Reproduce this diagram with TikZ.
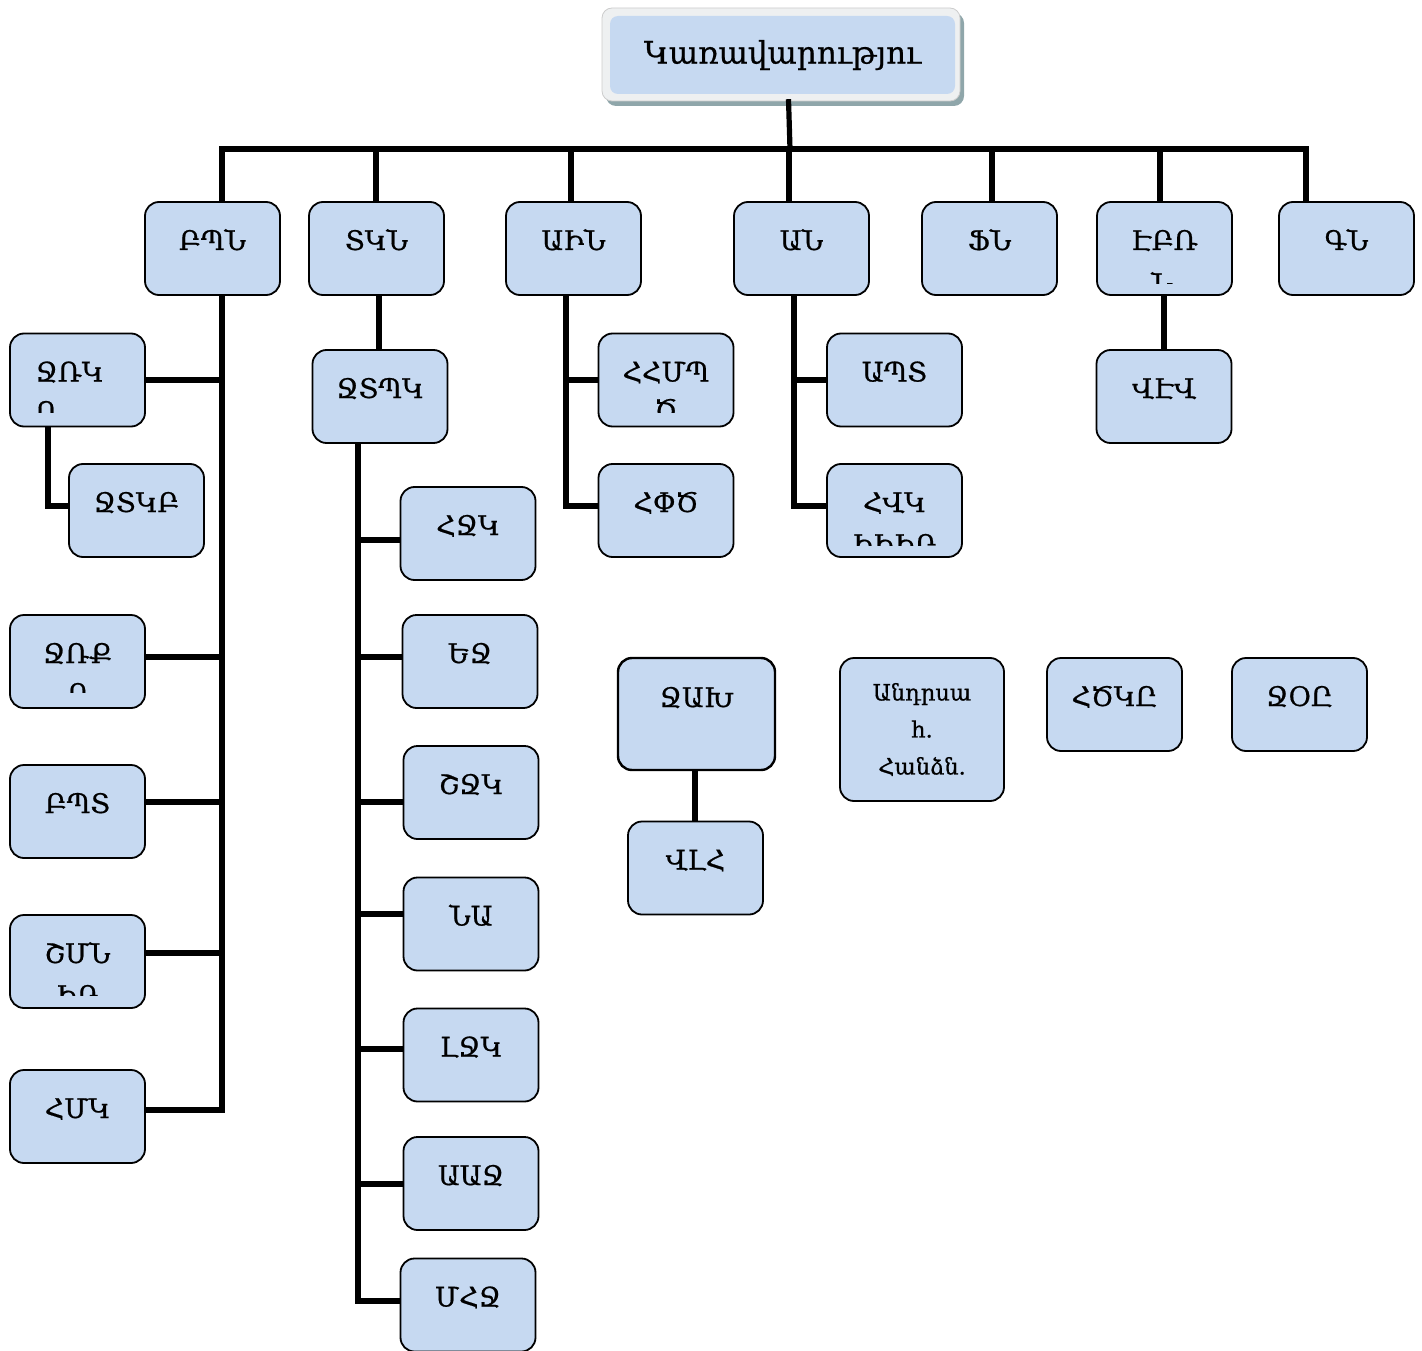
\documentclass[tikz,border=0pt]{standalone}
\usepackage{fontspec}
\setmainfont{DejaVu Serif}[BoldFont={DejaVu Serif}, BoldFeatures={FakeBold=0.7}]
\usetikzlibrary{calc}
\definecolor{boxblue}{RGB}{198,217,241}
\definecolor{frameshadow}{RGB}{143,166,170}
\definecolor{framegray}{RGB}{238,240,241}
\begin{document}
\begin{tikzpicture}[x=1pt,y=-1pt,
  unit/.style={draw=black, line width=1.8pt, rounded corners=14pt, fill=boxblue, inner sep=0pt, minimum width=135pt, align=center, font=\fontsize{27}{32}\selectfont\bfseries},
  tbox/.style={unit, text height=48pt, text depth=45pt},
  link/.style={line width=5.2pt, line join=miter},
  frag/.style={inner sep=0pt, anchor=base, font=\fontsize{27}{32}\selectfont\bfseries}
]
\useasboundingbox (0,0) rectangle (1422,1351);

% top frame
\fill[frameshadow, rounded corners=10pt] (606,13) rectangle (964,106);
\filldraw[fill=framegray, draw=gray!40, line width=0.8pt, rounded corners=10pt] (602,8) rectangle (960,101);
\node[fill=boxblue, rounded corners=8pt, minimum width=345pt, minimum height=78pt, inner sep=0pt, font=\fontsize{31}{36}\selectfont\bfseries] (top) at (782.5,55) {Կառավարությու};

% top row
\node[tbox] (bpn) at (212.5,248.5) {ԲՊՆ};
\node[tbox] (tkn) at (376.5,248.5) {ՏԿՆ};
\node[tbox] (ain) at (573.5,248.5) {ԱԻՆ};
\node[tbox] (an) at (801.5,248.5) {ԱՆ};
\node[tbox] (fn) at (989.5,248.5) {ՖՆ};
\node[tbox] (ebr) at (1164.5,248.5) {ԷԲՌ};
\node[tbox] (gn) at (1346.5,248.5) {ԳՆ};

% left column
\node[tbox, text width=84pt, align=left] (zrk) at (77.5,380) {ՋՌԿ};
\node[tbox] (ztkb) at (136.5,510.5) {ՋՏԿԲ};
\node[tbox] (zrq) at (77.5,661.5) {ՋՌՔ};
\node[tbox] (bpt) at (77.5,811.5) {ԲՊՏ};
\node[tbox] (shmn) at (77.5,961.5) {ՇՄՆ};
\node[tbox] (hmk) at (77.5,1116.5) {ՀՄԿ};

% TKN column
\node[tbox] (ztpk) at (380,396.5) {ՋՏՊԿ};
\node[tbox] (hjk) at (468,533.5) {ՀՋԿ};
\node[tbox] (ej) at (470,661.5) {ԵՋ};
\node[tbox] (shjk) at (471,792.5) {ՇՋԿ};
\node[tbox] (na) at (471,924) {ՆԱ};
\node[tbox] (ljk) at (471,1055) {ԼՋԿ};
\node[tbox] (aaj) at (471,1183.5) {ԱԱՋ};
\node[tbox] (mhj) at (468,1305) {ՄՀՋ};

% AIN / AN / EBR children
\node[tbox] (hhmp) at (666,380) {ՀՀՄՊ};
\node[tbox] (hpts) at (666,510.5) {ՀՓԾ};
\node[tbox] (apt) at (894.5,380) {ԱՊՏ};
\node[tbox] (hvk) at (894.5,510.5) {ՀՎԿ};
\node[tbox] (vev) at (1164,396.5) {ՎԷՎ};

% free boxes
\node[tbox, minimum width=157pt, text height=49pt, text depth=63pt, line width=2.4pt] (jakh) at (696.5,714) {ՋԱԽ};
\node[tbox] (vlh) at (695.5,868) {ՎԼՀ};
\node[unit, minimum width=164pt, minimum height=143pt, font=\fontsize{22.5}{37}\selectfont\bfseries] (andrsa) at (922,729.5) {Անդրսա\\հ.\\Հանձն.};
\node[tbox] (htskc) at (1114.5,704.5) {ՀԾԿԸ};
\node[tbox] (joc) at (1299.5,704.5) {ՋՕԸ};

% clipped second lines
\begin{scope}\clip (12,335) rectangle (143,412);
\node[frag, anchor=base west] (zrk2) at (35,421) {Ո};\end{scope}
\begin{scope}\clip (12,617) rectangle (143,692);
\node[frag] (zrq2) at (79,703) {Ռ};\end{scope}
\begin{scope}\clip (601,335) rectangle (731,412);
\node[frag] (hhmp2) at (666,419) {Ծ};\end{scope}
\begin{scope}\clip (1099,204) rectangle (1230,283);
\node[frag] (ebr2) at (1162,293) {Ն};\end{scope}
\begin{scope}\clip (829,466) rectangle (960,545);
\node[frag] (hvk2) at (894,554) {ԻԻԻՐ};\end{scope}
\begin{scope}\clip (12,917) rectangle (143,995);
\node[frag] (shmn2) at (77,1005) {ԻՐ};\end{scope}

% connectors
\coordinate (hub) at (790,149);
\coordinate (b1) at (222,149);
\coordinate (b2) at (376,149);
\coordinate (b3) at (571,149);
\coordinate (b4) at (789,149);
\coordinate (b5) at (992,149);
\coordinate (b6) at (1160,149);
\coordinate (b7) at (1306,149);
\draw[link] ($(top.south)+(6,5)$) -- (hub);
\draw[link] (b1 |- bpn.north) -- (b1) -- (b7) -- (b7 |- gn.north);
\draw[link] (b2) -- (b2 |- tkn.north);
\draw[link] (b3) -- (b3 |- ain.north);
\draw[link] (b4) -- (b4 |- an.north);
\draw[link] (b5) -- (b5 |- fn.north);
\draw[link] (b6) -- (b6 |- ebr.north);

% BPN trunk
\coordinate (j1) at (222,380);
\coordinate (j2) at (222,657);
\coordinate (j3) at (222,802);
\coordinate (j4) at (222,953);
\coordinate (j5) at (222,1110);
\draw[link] (bpn.south -| j1) -- (j5) -- (hmk.east |- j5);
\draw[link] (zrk.east |- j1) -- (j1);
\draw[link] (zrq.east |- j2) -- (j2);
\draw[link] (bpt.east |- j3) -- (j3);
\draw[link] (shmn.east |- j4) -- (j4);
\coordinate (z1) at (48,506);
\draw[link] (zrk.south -| z1) -- (z1) -- (ztkb.west |- z1);

% TKN
\coordinate (v2) at (379,320);
\draw[link] (tkn.south -| v2) -- (ztpk.north -| v2);
\coordinate (k1) at (358,540);
\coordinate (k2) at (358,657);
\coordinate (k3) at (358,802);
\coordinate (k4) at (358,914);
\coordinate (k5) at (358,1049);
\coordinate (k6) at (358,1184);
\coordinate (k7) at (358,1301);
\draw[link] (ztpk.south -| k1) -- (k7) -- (mhj.west |- k7);
\draw[link] (k1) -- (hjk.west |- k1);
\draw[link] (k2) -- (ej.west |- k2);
\draw[link] (k3) -- (shjk.west |- k3);
\draw[link] (k4) -- (na.west |- k4);
\draw[link] (k5) -- (ljk.west |- k5);
\draw[link] (k6) -- (aaj.west |- k6);

% AIN
\coordinate (a1) at (566,380);
\coordinate (a2) at (566,506);
\draw[link] (ain.south -| a1) -- (a2) -- (hpts.west |- a2);
\draw[link] (a1) -- (hhmp.west |- a1);
% AN
\coordinate (n1) at (794,380);
\coordinate (n2) at (794,506);
\draw[link] (an.south -| n1) -- (n2) -- (hvk.west |- n2);
\draw[link] (n1) -- (apt.west |- n1);
% EBR
\coordinate (e1) at (1164,320);
\draw[link] (ebr.south -| e1) -- (vev.north -| e1);
% JAKh
\coordinate (w1) at (695,790);
\draw[link] (jakh.south -| w1) -- (vlh.north -| w1);
\end{tikzpicture}
\end{document}
